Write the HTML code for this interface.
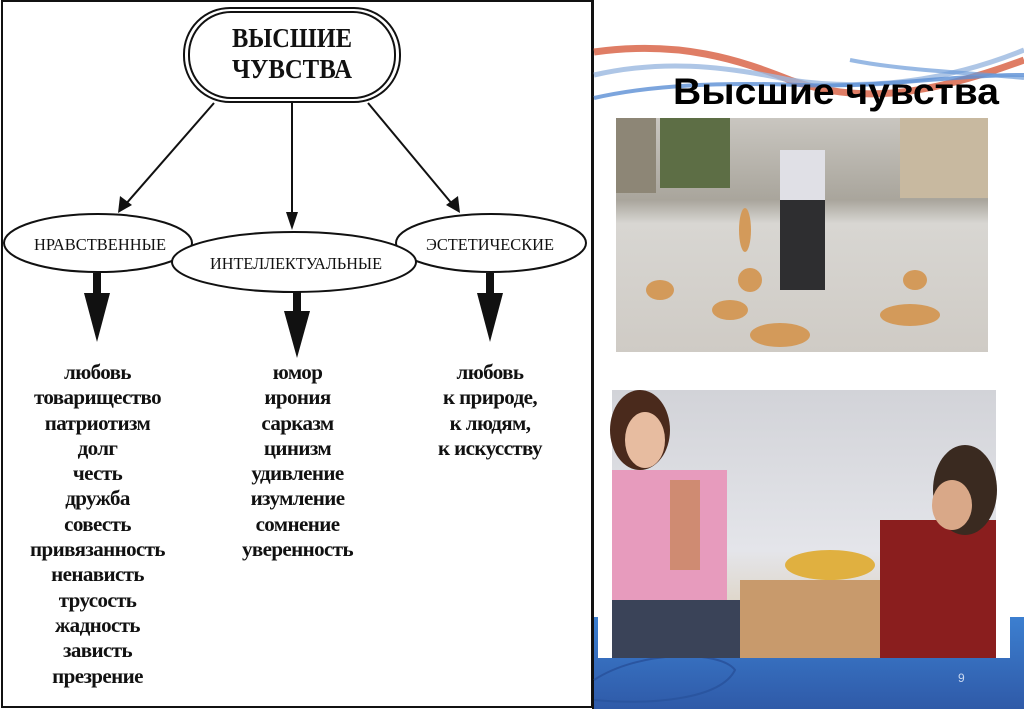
<!DOCTYPE html>
<html><head><meta charset="utf-8"><style>
html,body{margin:0;padding:0;background:#fff;}
body{width:1024px;height:709px;position:relative;overflow:hidden;font-family:"Liberation Serif",serif;}
.col{position:absolute;text-align:center;font-weight:bold;font-size:21px;line-height:25.3px;color:#111;letter-spacing:-0.6px;}
</style></head><body>
<svg width="1024" height="709" style="position:absolute;left:0;top:0">
<rect x="2" y="1" width="590" height="706" fill="#fff" stroke="#111" stroke-width="2"/>
<rect x="184" y="8" width="216" height="94" rx="46" fill="#fff" stroke="#111" stroke-width="2"/>
<rect x="189" y="12" width="206" height="86" rx="42" fill="none" stroke="#111" stroke-width="2"/>
<text x="292" y="47" text-anchor="middle" font-family="Liberation Serif" font-weight="bold" font-size="27" fill="#111" textLength="120" lengthAdjust="spacingAndGlyphs">ВЫСШИЕ</text>
<text x="292" y="78" text-anchor="middle" font-family="Liberation Serif" font-weight="bold" font-size="27" fill="#111" textLength="120" lengthAdjust="spacingAndGlyphs">ЧУВСТВА</text>
<g stroke="#111" stroke-width="2" fill="#111">
<line x1="214" y1="103" x2="125" y2="205"/>
<line x1="292" y1="103" x2="292" y2="220"/>
<line x1="368" y1="103" x2="453" y2="205"/>
</g>
<polygon points="118,213 120,196 132,205" fill="#111"/>
<polygon points="292,230 286,212 298,212" fill="#111"/>
<polygon points="460,213 446,205 458,196" fill="#111"/>
<ellipse cx="98" cy="243" rx="94" ry="29" fill="#fff" stroke="#111" stroke-width="2"/>
<ellipse cx="491" cy="243" rx="95" ry="29" fill="#fff" stroke="#111" stroke-width="2"/>
<ellipse cx="294" cy="262" rx="122" ry="30" fill="#fff" stroke="#111" stroke-width="2"/>
<text x="100" y="250" text-anchor="middle" font-family="Liberation Serif" font-size="17" fill="#111" textLength="132" lengthAdjust="spacingAndGlyphs">НРАВСТВЕННЫЕ</text>
<text x="296" y="269" text-anchor="middle" font-family="Liberation Serif" font-size="17" fill="#111" textLength="172" lengthAdjust="spacingAndGlyphs">ИНТЕЛЛЕКТУАЛЬНЫЕ</text>
<text x="490" y="250" text-anchor="middle" font-family="Liberation Serif" font-size="17" fill="#111" textLength="128" lengthAdjust="spacingAndGlyphs">ЭСТЕТИЧЕСКИЕ</text>
<g fill="#111">
<rect x="93" y="273" width="8" height="22"/><polygon points="84,293 110,293 97,342"/>
<rect x="293" y="292" width="8" height="22"/><polygon points="284,311 310,311 297,358"/>
<rect x="486" y="273" width="8" height="22"/><polygon points="477,293 503,293 490,342"/>
</g>
<line x1="593" y1="0" x2="593" y2="709" stroke="#111" stroke-width="2"/>
<path d="M594 52 C680 40 740 60 790 80 C860 105 930 95 1024 60" stroke="#d9664a" stroke-width="7" fill="none" opacity="0.85"/>
<path d="M594 75 C660 60 720 65 790 80 C870 92 950 80 1024 50" stroke="#9ab8e0" stroke-width="5" fill="none" opacity="0.8"/>
<path d="M594 98 C650 85 720 82 800 85 C880 88 950 75 1024 75" stroke="#5b8fd4" stroke-width="4" fill="none" opacity="0.8"/>
<path d="M850 60 C900 70 960 72 1024 78" stroke="#6c9bd8" stroke-width="4" fill="none" opacity="0.7"/>
<text x="673" y="104" font-family="Liberation Sans" font-weight="bold" font-size="37" fill="#000" textLength="326" lengthAdjust="spacingAndGlyphs">Высшие чувства</text>
<defs><linearGradient id="bb" x1="0" y1="0" x2="0" y2="1"><stop offset="0" stop-color="#3c7fd0"/><stop offset="1" stop-color="#2f5aa8"/></linearGradient>
<linearGradient id="p1" x1="0" y1="0" x2="0" y2="1"><stop offset="0" stop-color="#c9c6c0"/><stop offset="0.35" stop-color="#a9a59c"/><stop offset="0.45" stop-color="#d8d6d2"/><stop offset="1" stop-color="#cfcbc5"/></linearGradient>
<linearGradient id="p2" x1="0" y1="0" x2="0" y2="1"><stop offset="0" stop-color="#d2d3d8"/><stop offset="0.6" stop-color="#e4e5ea"/><stop offset="1" stop-color="#d9c7a8"/></linearGradient></defs>
<rect x="594" y="617" width="430" height="92" fill="url(#bb)"/>
<path d="M594 680 C640 650 720 650 735 670 C720 700 650 705 594 700" stroke="#2a55a0" stroke-width="2" fill="none"/>
<rect x="598" y="380" width="412" height="278" fill="#fff"/>
<text x="958" y="682" font-family="Liberation Sans" font-size="12" fill="#c9d8f0">9</text>
<rect x="616" y="118" width="372" height="234" fill="url(#p1)"/>
<rect x="616" y="118" width="40" height="75" fill="#8d8676"/>
<rect x="660" y="118" width="70" height="70" fill="#5d6e45"/>
<rect x="900" y="118" width="88" height="80" fill="#c8b9a0"/>
<rect x="780" y="150" width="45" height="50" fill="#e0e0e6"/>
<rect x="780" y="200" width="45" height="90" fill="#2e2e30"/>
<g fill="#d39a5a"><ellipse cx="660" cy="290" rx="14" ry="10"/><ellipse cx="730" cy="310" rx="18" ry="10"/><ellipse cx="780" cy="335" rx="30" ry="12"/><ellipse cx="910" cy="315" rx="30" ry="11"/><ellipse cx="915" cy="280" rx="12" ry="10"/><ellipse cx="750" cy="280" rx="12" ry="12"/><ellipse cx="745" cy="230" rx="6" ry="22"/></g>
<rect x="612" y="390" width="384" height="268" fill="url(#p2)"/>
<rect x="612" y="470" width="115" height="150" fill="#e79bbd"/>
<rect x="612" y="600" width="130" height="58" fill="#3a4358"/>
<ellipse cx="640" cy="430" rx="30" ry="40" fill="#4a2a1c"/>
<ellipse cx="645" cy="440" rx="20" ry="28" fill="#e7bca0"/>
<rect x="740" y="580" width="140" height="78" fill="#c89a6c"/>
<ellipse cx="830" cy="565" rx="45" ry="15" fill="#e0b040"/>
<rect x="880" y="520" width="116" height="138" fill="#8a1e1e"/>
<ellipse cx="965" cy="490" rx="32" ry="45" fill="#3a2a20"/>
<ellipse cx="952" cy="505" rx="20" ry="25" fill="#d9a888"/>
<rect x="670" y="480" width="30" height="90" fill="#c08040" opacity="0.6"/>
</svg>
<div class="col" style="left:10px;top:360px;width:175px;">любовь<br>товарищество<br>патриотизм<br>долг<br>честь<br>дружба<br>совесть<br>привязанность<br>ненависть<br>трусость<br>жадность<br>зависть<br>презрение</div>
<div class="col" style="left:210px;top:360px;width:175px;">юмор<br>ирония<br>сарказм<br>цинизм<br>удивление<br>изумление<br>сомнение<br>уверенность</div>
<div class="col" style="left:400px;top:360px;width:180px;">любовь<br>к природе,<br>к людям,<br>к искусству</div>
</body></html>
